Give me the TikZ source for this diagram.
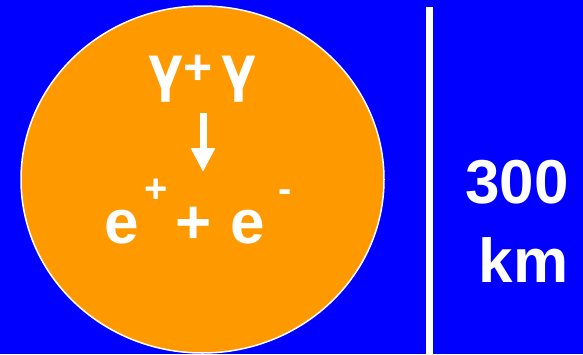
\documentclass[tikz,border=0pt]{standalone}
\usepackage{fontspec}
\setmainfont{Liberation Sans}
\newfontfamily\gammafont{TeX Gyre Heros}
\usetikzlibrary{arrows.meta}
\definecolor{bgblue}{RGB}{0,0,255}
\definecolor{ballorange}{RGB}{255,153,0}
\tikzset{
  bigtxt/.style={text=white, font=\fontsize{62}{62}\selectfont\bfseries, inner sep=0pt, anchor=base},
  gtxt/.style={text=white, font=\fontsize{60}{60}\selectfont\gammafont\bfseries, inner sep=0pt, anchor=base},
  midtxt/.style={text=white, font=\fontsize{50}{50}\selectfont\bfseries, inner sep=0pt, anchor=base},
  suptxt/.style={text=white, font=\fontsize{40}{40}\selectfont\bfseries, inner sep=0pt, anchor=base},
}
\begin{document}
\begin{tikzpicture}[x=1pt,y=-1pt]
  \fill[bgblue] (0,0) rectangle (583,354);
  \useasboundingbox (0,0) rectangle (583,354);
  \draw[white, line width=1.5pt, fill=ballorange] (202.5,179.5) ellipse [x radius=181.5pt, y radius=173.5pt];
  \coordinate (lt) at (429.5,7);
  \coordinate (lb) at (429.5,354);
  \draw[white, line width=7pt] (lt) -- (lb);
  \node[gtxt] (g1) at (166,88) {γ};
  \node[midtxt] (gp) at (198.5,84) {+};
  \node[gtxt] (g2) at (239,88) {γ};
  \coordinate (a1) at (203,113);
  \coordinate (a2) at (203,172);
  \draw[white, line width=7pt, -{Triangle[width=23pt,length=24pt]}] (a1) -- (a2);
  \node[bigtxt] (e1) at (121.5,243) {e};
  \node[suptxt] (p1) at (156,202) {+};
  \node[bigtxt] (pl) at (194,243) {+};
  \node[bigtxt] (e2) at (247.5,243) {e};
  \node[suptxt] (m2) at (285.5,202) {-};
  \node[bigtxt] (n300) at (517,203) {300};
  \node[bigtxt] (km) at (523.5,282) {km};
\end{tikzpicture}
\end{document}
